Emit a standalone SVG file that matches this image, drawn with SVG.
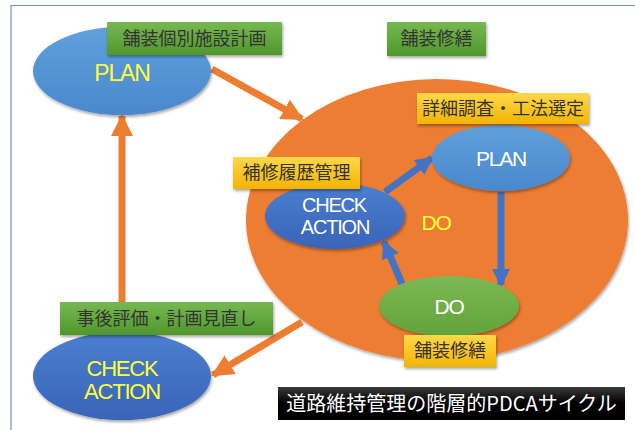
<svg xmlns="http://www.w3.org/2000/svg" width="635" height="430" viewBox="0 0 635 430">
<defs>
<style>
.jp{font-family:"Noto Sans CJK JP","Liberation Sans",sans-serif;font-size:18px;fill:#333;text-anchor:middle}
.en{font-family:"Liberation Sans",Arial,sans-serif;text-anchor:middle;letter-spacing:-1.2px}
.yl{fill:#ffff3c}
.wt{fill:#ffffff}
.oa{stroke:#ed7d31;stroke-width:7;fill:none}
.ba{stroke:#4472c4;stroke-width:7;fill:none}
</style>
<linearGradient id="gGreen" x1="0" y1="0" x2="0" y2="1"><stop offset="0" stop-color="#77b852"/><stop offset="1" stop-color="#4f972c"/></linearGradient>
<linearGradient id="gYellow" x1="0" y1="0" x2="0" y2="1"><stop offset="0" stop-color="#ffd84a"/><stop offset="1" stop-color="#f4b400"/></linearGradient>
<linearGradient id="gBlueL" x1="0" y1="0" x2="0" y2="1"><stop offset="0" stop-color="#5fa0dc"/><stop offset="1" stop-color="#4a88cc"/></linearGradient>
<linearGradient id="gBlueD" x1="0" y1="0" x2="0" y2="1"><stop offset="0" stop-color="#4a7fd0"/><stop offset="1" stop-color="#3a64b8"/></linearGradient>
<linearGradient id="gDo" x1="0" y1="0" x2="0" y2="1"><stop offset="0" stop-color="#7cb856"/><stop offset="1" stop-color="#62a33a"/></linearGradient>
<linearGradient id="gBlack" x1="0" y1="0" x2="0" y2="1"><stop offset="0" stop-color="#3a3a3a"/><stop offset="0.5" stop-color="#000"/><stop offset="1" stop-color="#000"/></linearGradient>
<filter id="sh" x="-20%" y="-20%" width="140%" height="150%"><feDropShadow dx="1" dy="2" stdDeviation="1.5" flood-color="#000" flood-opacity="0.35"/></filter>
<marker id="mo" markerUnits="userSpaceOnUse" markerWidth="22" markerHeight="22" refX="20" refY="11" orient="auto"><path d="M0,0 L22,11 L0,22 Z" fill="#ed7d31"/></marker>
<marker id="mb" markerUnits="userSpaceOnUse" markerWidth="18" markerHeight="18" refX="16" refY="9" orient="auto"><path d="M0,0 L18,9 L0,18 Z" fill="#4472c4"/></marker>
</defs>
<rect x="0" y="0" width="635" height="430" fill="#fff"/>
<path d="M11,430 V5.5 H635" fill="none" stroke="#7a90b8" stroke-width="1.2"/>

<g id="do-outer">
<ellipse cx="437" cy="220" rx="191" ry="141" fill="#ed7d31" filter="url(#sh)"/>
<text class="en yl" x="436" y="230" font-size="21">DO</text>
</g>

<g id="connectors">
<line class="oa" x1="212" y1="69" x2="302" y2="119" marker-end="url(#mo)"/>
<line class="oa" x1="122" y1="302" x2="122" y2="116" marker-end="url(#mo)"/>
<line class="oa" x1="302" y1="322" x2="213" y2="375" marker-end="url(#mo)"/>
<line class="ba" x1="385" y1="192" x2="432" y2="158" marker-end="url(#mb)"/>
<line class="ba" x1="501" y1="192" x2="501" y2="285" marker-end="url(#mb)"/>
<line class="ba" x1="403" y1="286" x2="384" y2="242" marker-end="url(#mb)"/>
</g>

<g id="plan-top">
<ellipse cx="122" cy="71" rx="89" ry="44" fill="url(#gBlueL)" filter="url(#sh)"/>
<text class="en yl" x="122" y="81" font-size="23">PLAN</text>
</g>
<g id="label-kobetsu">
<rect x="107" y="22" width="175" height="33" fill="url(#gGreen)" filter="url(#sh)"/>
<text class="jp" x="194.5" y="45">舗装個別施設計画</text>
</g>

<g id="label-shuzen-top">
<rect x="387" y="22" width="99" height="34" fill="url(#gGreen)" filter="url(#sh)"/>
<text class="jp" x="436.5" y="45">舗装修繕</text>
</g>

<g id="plan-inner">
<ellipse cx="501" cy="158" rx="69" ry="33" fill="url(#gBlueL)" filter="url(#sh)"/>
<text class="en wt" x="501" y="166" font-size="21">PLAN</text>
</g>
<g id="label-chousa">
<rect x="417" y="93" width="172" height="31" fill="url(#gYellow)" filter="url(#sh)"/>
<text class="jp" x="503" y="115">詳細調査・工法選定</text>
</g>

<g id="check-inner">
<ellipse cx="335" cy="216" rx="70" ry="33" fill="url(#gBlueD)" filter="url(#sh)"/>
<text class="en wt" x="334" y="212" font-size="20">CHECK</text>
<text class="en wt" x="335" y="234" font-size="20">ACTION</text>
</g>
<g id="label-rireki">
<rect x="233" y="157" width="127" height="32" fill="url(#gYellow)" filter="url(#sh)"/>
<text class="jp" x="296.5" y="179">補修履歴管理</text>
</g>

<g id="do-inner">
<ellipse cx="449" cy="306" rx="70" ry="30" fill="url(#gDo)" filter="url(#sh)"/>
<text class="en wt" x="449" y="314" font-size="21">DO</text>
</g>
<g id="label-shuzen-bottom">
<rect x="404" y="335" width="92" height="32" fill="url(#gYellow)" filter="url(#sh)"/>
<text class="jp" x="450" y="357">舗装修繕</text>
</g>

<g id="check-bottom">
<ellipse cx="122" cy="376" rx="89" ry="44" fill="url(#gBlueD)" filter="url(#sh)"/>
<text class="en yl" x="122" y="376" font-size="22">CHECK</text>
<text class="en yl" x="122" y="399" font-size="22">ACTION</text>
</g>
<g id="label-jigo">
<rect x="60" y="302" width="213" height="33" fill="url(#gGreen)" filter="url(#sh)"/>
<text class="jp" x="166.5" y="325">事後評価・計画見直し</text>
</g>

<g id="title">
<rect x="278" y="387" width="347" height="33" fill="url(#gBlack)"/>
<text x="451.5" y="411" font-family="Noto Sans CJK JP,Liberation Sans,sans-serif" font-size="20" fill="#fff" text-anchor="middle">道路維持管理の階層的PDCAサイクル</text>
</g>
</svg>
